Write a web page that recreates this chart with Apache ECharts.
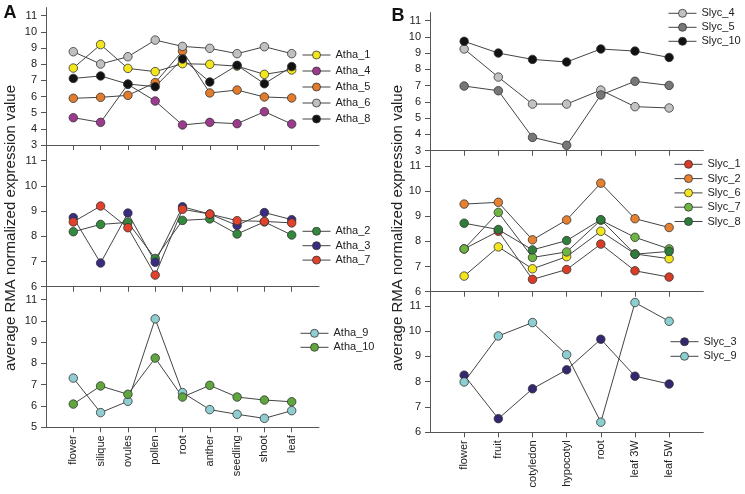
<!DOCTYPE html>
<html><head><meta charset="utf-8">
<script src="https://cdn.jsdelivr.net/npm/echarts@6/dist/echarts.min.js"></script>
<style>html,body{margin:0;padding:0;background:#fff}#c{width:745px;height:494px}</style>
</head><body><div id="c"></div>
<script>
// ---- categories ----
const catsA = ['flower','silique','ovules','pollen','root','anther','seedling','shoot','leaf'];
const catsB = ['flower','fruit','cotyledon','hypocotyl','root','leaf 3W','leaf 5W'];
// ---- tick labels ----
const yTicksTop = [3,4,5,6,7,8,9,10,11];
const yTicksA2 = [6,7,8,9,10,11];
const yTicksA3 = [5,6,7,8,9,10,11];
const yTicksB2 = [6,7,8,9,10,11];
const yTicksB3 = [6,7,8,9,10,11];
// ---- series values (A) ----
const atha1 = [7.76, 9.21, 7.74, 7.54, 8.03, 7.99, 7.88, 7.37, 7.64];
const atha4 = [4.69, 4.40, 6.75, 5.72, 4.24, 4.40, 4.32, 5.06, 4.30];
const atha5 = [5.89, 5.95, 6.07, 6.86, 8.81, 6.22, 6.40, 5.97, 5.91];
const atha6 = [8.77, 8.01, 8.46, 9.49, 9.10, 8.98, 8.65, 9.08, 8.65];
const atha8 = [7.12, 7.27, 6.77, 6.61, 8.32, 6.90, 7.93, 6.79, 7.85];
const atha2 = [8.18, 8.47, 8.55, 7.12, 8.63, 8.69, 8.09, 8.57, 8.05];
const atha3 = [8.74, 6.94, 8.92, 6.97, 9.17, 8.88, 8.43, 8.94, 8.66];
const atha7 = [8.57, 9.20, 8.34, 6.46, 9.07, 8.88, 8.62, 8.59, 8.53];
const atha9 = [7.31, 5.69, 6.22, 10.09, 6.63, 5.83, 5.61, 5.42, 5.78];
const atha10 = [6.09, 6.94, 6.55, 8.25, 6.42, 6.97, 6.42, 6.28, 6.20];
// ---- series values (B) ----
const slyc4 = [9.26, 7.53, 5.87, 5.87, 6.73, 5.71, 5.63];
const slyc5 = [6.98, 6.69, 3.82, 3.33, 6.43, 7.27, 7.02];
const slyc10 = [9.73, 9.01, 8.62, 8.46, 9.26, 9.13, 8.74];
const slyc1 = [7.70, 8.40, 6.49, 6.88, 7.89, 6.83, 6.58];
const slyc2 = [9.48, 9.55, 8.06, 8.85, 10.31, 8.90, 8.55];
const slyc6 = [6.62, 7.78, 6.91, 7.39, 8.40, 7.50, 7.31];
const slyc7 = [7.70, 9.15, 7.36, 7.58, 8.84, 8.16, 7.70];
const slyc8 = [8.72, 8.47, 7.66, 8.03, 8.86, 7.49, 7.60];
const slyc3 = [8.26, 6.54, 7.72, 8.47, 9.68, 8.22, 7.91];
const slyc9 = [7.99, 9.81, 10.34, 9.07, 6.40, 11.13, 10.39];

const PAD0 = '\u200b', PAD1 = '\u200b\u200b';
const padded = c => [PAD0, ...c, PAD1];
const isReal = (i, v) => v !== PAD0 && v !== PAD1;

const grids = [
  {left: 46, top: 7.6, width: 273, height: 137.4},
  {left: 46, top: 145, width: 273, height: 141.7},
  {left: 46, top: 286.7, width: 273, height: 140.6},
  {left: 430, top: 12.6, width: 273.3, height: 138.1},
  {left: 430, top: 150.7, width: 273.3, height: 141},
  {left: 430, top: 291.7, width: 273.3, height: 140.6}
];
const yDefs = [
  {min: 3, max: 11.5, ticks: yTicksTop},
  {min: 6, max: 11.62, ticks: yTicksA2},
  {min: 5, max: 11.6, ticks: yTicksA3},
  {min: 3, max: 11.5, ticks: yTicksTop},
  {min: 6, max: 11.6, ticks: yTicksB2},
  {min: 6, max: 11.56, ticks: yTicksB3}
];
const axisColor = '#555';
const FONT = 'Liberation Sans, Arial, sans-serif';
const xAxes = grids.map((g, i) => ({
  type: 'category', gridIndex: i, boundaryGap: false,
  data: padded(i < 3 ? catsA : catsB),
  axisLine: {lineStyle: {color: axisColor, width: 1}},
  axisTick: {show: true, interval: isReal, length: 5, lineStyle: {color: axisColor}},
  axisLabel: {show: i === 2 || i === 5, interval: isReal, rotate: 90, fontSize: 11,
    color: '#222', margin: 8, fontFamily: FONT},
  splitLine: {show: false}
}));
const yAxes = yDefs.map((d, i) => ({
  type: 'value', gridIndex: i, min: d.min, max: d.max,
  axisLine: {show: true, lineStyle: {color: axisColor, width: 1}},
  axisTick: {show: true, length: 5, customValues: d.ticks, lineStyle: {color: axisColor}},
  axisLabel: {customValues: d.ticks, fontSize: 11, color: '#222', margin: 9, fontFamily: FONT},
  splitLine: {show: false}
}));

const seriesDefs = [
  ['Atha_1', atha1, '#f3e61c', 0], ['Atha_4', atha4, '#9c3a8e', 0], ['Atha_5', atha5, '#e27b2c', 0],
  ['Atha_6', atha6, '#c0c0c0', 0], ['Atha_8', atha8, '#121212', 0],
  ['Atha_2', atha2, '#33893c', 1], ['Atha_3', atha3, '#3a2c80', 1], ['Atha_7', atha7, '#e2412c', 1],
  ['Atha_9', atha9, '#90cdd0', 2], ['Atha_10', atha10, '#5fa63c', 2],
  ['Slyc_4', slyc4, '#c2c2c2', 3], ['Slyc_5', slyc5, '#777777', 3], ['Slyc_10', slyc10, '#111111', 3],
  ['Slyc_1', slyc1, '#d83b26', 4], ['Slyc_2', slyc2, '#e8812f', 4], ['Slyc_6', slyc6, '#f3e51d', 4],
  ['Slyc_7', slyc7, '#6db443', 4], ['Slyc_8', slyc8, '#2f7d3a', 4],
  ['Slyc_3', slyc3, '#33276f', 5], ['Slyc_9', slyc9, '#8ccfd0', 5]
];
const series = seriesDefs.map(([name, vals, color, gi]) => {
  const cats = gi < 3 ? catsA : catsB;
  return {
    name, type: 'line', xAxisIndex: gi, yAxisIndex: gi,
    data: cats.map((c, k) => [c, vals[k]]),
    symbol: 'circle', symbolSize: 8.5, animation: false,
    itemStyle: {color, borderColor: '#333', borderWidth: 0.8},
    lineStyle: {color: '#444', width: 1}
  };
});

const legendBase = {
  orient: 'vertical', itemWidth: 28, itemHeight: 10, selectedMode: false, padding: 0,
  itemStyle: {borderWidth: 0.8, borderColor: '#333'},
  lineStyle: {width: 1, color: '#444'},
  textStyle: {fontSize: 11, color: '#222', lineHeight: 11, fontFamily: FONT}
};
const legends = [
  {left: 302, top: 49.5, itemGap: 5, data: ['Atha_1','Atha_4','Atha_5','Atha_6','Atha_8']},
  {left: 302, top: 225.8, itemGap: 3.4, data: ['Atha_2','Atha_3','Atha_7']},
  {left: 300, top: 327.8, itemGap: 3, data: ['Atha_9','Atha_10']},
  {left: 668, top: 7.8, itemGap: 3, data: ['Slyc_4','Slyc_5','Slyc_10']},
  {left: 674, top: 158.8, itemGap: 3.3, data: ['Slyc_1','Slyc_2','Slyc_6','Slyc_7','Slyc_8']},
  {left: 670, top: 336.2, itemGap: 3.6, data: ['Slyc_3','Slyc_9']}
].map(l => Object.assign({}, legendBase, l));

const yName = 'average RMA normalized expression value';
const graphic = [
  {type: 'text', x: 10.5, y: 228, rotation: Math.PI / 2,
   style: {text: yName, fontSize: 15, fill: '#222', align: 'center', verticalAlign: 'middle', fontFamily: FONT}},
  {type: 'text', x: 397.5, y: 228, rotation: Math.PI / 2,
   style: {text: yName, fontSize: 15, fill: '#222', align: 'center', verticalAlign: 'middle', fontFamily: FONT}},
  {type: 'text', x: 10, y: 13.5,
   style: {text: 'A', fontSize: 18, fontWeight: 'bold', fill: '#111', align: 'center', verticalAlign: 'middle', fontFamily: FONT}},
  {type: 'text', x: 398, y: 16.5,
   style: {text: 'B', fontSize: 18, fontWeight: 'bold', fill: '#111', align: 'center', verticalAlign: 'middle', fontFamily: FONT}}
];

const chart = echarts.init(document.getElementById('c'), null, {renderer: 'canvas'});
chart.setOption({
  backgroundColor: '#fff', animation: false,
  grid: grids, xAxis: xAxes, yAxis: yAxes, legend: legends, series, graphic
});
</script></body></html>
